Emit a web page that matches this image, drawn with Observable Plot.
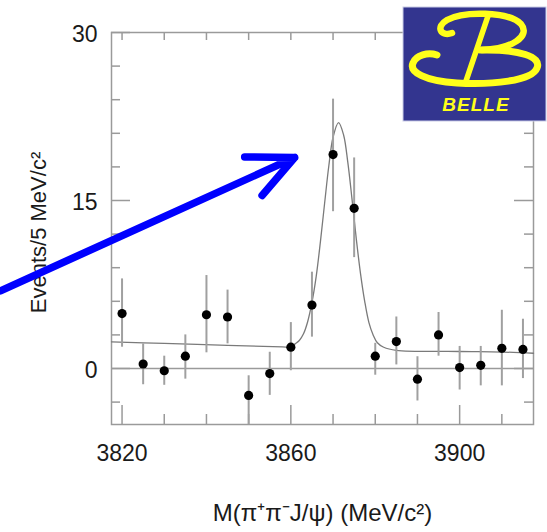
<!DOCTYPE html>
<html>
<head>
<meta charset="utf-8">
<script src="https://cdn.jsdelivr.net/npm/d3@7"></script>
<script src="https://cdn.jsdelivr.net/npm/@observablehq/plot@0.6"></script>
<style>
  html, body { margin: 0; padding: 0; background: #fff; }
  #wrap { position: relative; width: 547px; height: 532px; overflow: hidden; }
  #logo { position: absolute; left: 0; top: 0; }
</style>
</head>
<body>
<div id="wrap"></div>
<script>
// ---- data ----
const mass      = [3820, 3825, 3830, 3835, 3840, 3845, 3850, 3855, 3860, 3865, 3870, 3875, 3880, 3885, 3890, 3895, 3900, 3905, 3910, 3915];
const events    = [4.9, 0.4, -0.2, 1.1, 4.8, 4.6, -2.4, -0.45, 1.9, 5.66, 19.1, 14.3, 1.1, 2.4, -0.95, 3.0, 0.08, 0.28, 1.8, 1.7];
const errHigh   = [8.0, 2.2, 1.1, 3.0, 8.3, 7.0, -0.65, 1.45, 4.1, 8.6, 24.05, 18.8, 2.25, 4.6, 1.05, 5.0, 1.97, 1.97, 5.2, 4.4];
const errLow    = [1.9, -1.45, -1.5, -0.95, 1.4, 2.2, -5.0, -2.4, -0.2, 2.8, 14.0, 9.9, -0.6, 0.32, -2.9, 1.1, -1.92, -1.55, -1.55, -0.9];

const fitMass   = [3817.5, 3830, 3845, 3858, 3860, 3861, 3862, 3863, 3864, 3865, 3866, 3867, 3868, 3869, 3870, 3871.3, 3872.5, 3873.5, 3874.5, 3875.5, 3876.5, 3877.5, 3878.5, 3879.5, 3880.5, 3882, 3885, 3900, 3910, 3917.5];
const fitEvents = [2.38, 2.24, 2.07, 1.93, 1.93, 2.2, 2.5, 3.1, 4.2, 5.9, 8.2, 11.3, 14.75, 18.1, 20.65, 21.96, 20.85, 18.4, 15.1, 11.6, 8.5, 6.0, 4.1, 3.0, 2.3, 1.9, 1.62, 1.52, 1.47, 1.36];

const xDomain = [3817.5, 3917.5];
const yDomain = [-5, 30];
const xLabelTicks = [3820, 3860, 3900];
const xMinorTicks = [3830, 3840, 3850, 3870, 3880, 3890, 3910];
const xTopTicks   = [3820, 3830, 3840, 3850, 3860, 3870, 3880, 3890, 3900, 3910];
const yLabelTicks = [0, 15, 30];
const yMinorTicks = [-3, 3, 6, 9, 12, 18, 21, 24, 27];

const arrowStart = {x: 3791.2, y: 6.94};
const arrowEnd   = {x: 3860.9, y: 18.84};

const xTitle = "M(\u03c0\u207a\u03c0\u207bJ/\u03c8) (MeV/c\u00b2)";
const yTitle = "Events/5 MeV/c\u00b2";

// ---- layout ----
const W = 547, H = 532;
const mL = 111, mR = 14, mT = 32, mB = 108;
const innerW = W - mL - mR, innerH = H - mT - mB;
const gray = "#9a9a9a";
const font = "'Liberation Sans', Arial, Helvetica, sans-serif";

const points = mass.map((m, i) => ({m, v: events[i], lo: errLow[i], hi: errHigh[i]}));
const fit = fitMass.map((m, i) => ({m, v: fitEvents[i]}));

const chart = Plot.plot({
  width: W, height: H,
  marginLeft: mL, marginRight: mR, marginTop: mT, marginBottom: mB,
  style: {fontFamily: font, color: "#1a1a1a", background: "transparent"},
  x: {domain: xDomain, axis: null},
  y: {domain: yDomain, axis: null},
  marks: [
    Plot.ruleY([0], {stroke: gray, strokeWidth: 1.5}),
    Plot.tickX(xLabelTicks, {x: d => d, insetTop: innerH - 19, stroke: gray, strokeWidth: 1.5}),
    Plot.tickX(xMinorTicks, {x: d => d, insetTop: innerH - 10, stroke: gray, strokeWidth: 1.5}),
    Plot.tickX(xTopTicks,   {x: d => d, insetBottom: innerH - 8, stroke: gray, strokeWidth: 1.5}),
    Plot.tickY(yLabelTicks, {y: d => d, insetRight: innerW - 19, stroke: gray, strokeWidth: 1.5}),
    Plot.tickY(yMinorTicks, {y: d => d, insetRight: innerW - 9, stroke: gray, strokeWidth: 1.5}),
    Plot.tickY(yLabelTicks, {y: d => d, insetLeft: innerW - 19, stroke: gray, strokeWidth: 1.5}),
    Plot.tickY(yMinorTicks, {y: d => d, insetLeft: innerW - 9, stroke: gray, strokeWidth: 1.5}),
    Plot.frame({stroke: gray, strokeWidth: 1.5}),
    Plot.line(fit, {x: "m", y: "v", stroke: "#7a7a7a", strokeWidth: 1.3, curve: "catmull-rom"}),
    Plot.ruleX(points, {x: "m", y1: "lo", y2: "hi", stroke: "#a0a0a0", strokeWidth: 2}),
    Plot.dot(points, {x: "m", y: "v", r: 4.6, fill: "#000", stroke: "none"}),
    Plot.axisX(xLabelTicks, {tickSize: 0, tickPadding: 20, fontSize: 23, tickFormat: d => String(d), label: null, fill: "#1a1a1a"}),
    Plot.axisY(yLabelTicks, {tickSize: 0, tickPadding: 14, fontSize: 23, tickFormat: d => String(d), label: null, fill: "#1a1a1a", dy: 2}),
    Plot.text([xTitle], {text: d => d, frameAnchor: "bottom", textAnchor: "middle", dy: 89, fontSize: 24, lineAnchor: "middle", fill: "#1a1a1a"}),
    Plot.text([yTitle], {text: d => d, frameAnchor: "left", textAnchor: "middle", dx: -73, dy: 4, rotate: -90, fontSize: 22, lineAnchor: "middle", fill: "#1a1a1a"}),
    Plot.arrow([{x1: arrowStart.x, y1: arrowStart.y, x2: arrowEnd.x, y2: arrowEnd.y}],
      {x1: "x1", y1: "y1", x2: "x2", y2: "y2", stroke: "#0000ff", strokeWidth: 7.5, headLength: 10, headAngle: 50, strokeLinecap: "round", strokeLinejoin: "round"})
  ]
});

const wrap = document.getElementById("wrap");
wrap.appendChild(chart);

// Belle logo (decoration)
const ns = "http://www.w3.org/2000/svg";
const logo = document.createElementNS(ns, "svg");
logo.setAttribute("id", "logo");
logo.setAttribute("width", W);
logo.setAttribute("height", H);
logo.innerHTML = `
  <rect x="403" y="7" width="143" height="114" fill="#33358f" stroke="#c9cbe6" stroke-width="1"/>
  <g fill="none" stroke="#ffff1a" stroke-linecap="round" stroke-linejoin="round">
    <path d="M452 33 C441 37 435 27 447 20 C463 11 508 11 521 24 C531 36 512 49 482 50" stroke-width="6.5"/>
    <path d="M488 16 L466 81" stroke-width="5.5"/>
    <path d="M480 50 C520 49 542 57 537 68 C532 81 492 85 457 83 C425 81 409 72 413 63 C416 55 428 52 437 55" stroke-width="7"/>
  </g>
  <text x="476" y="111" text-anchor="middle" font-family="${font}" font-style="italic" font-weight="bold" font-size="19" letter-spacing="1" fill="#ffff1a">BELLE</text>
`;
wrap.appendChild(logo);
</script>
</body>
</html>
